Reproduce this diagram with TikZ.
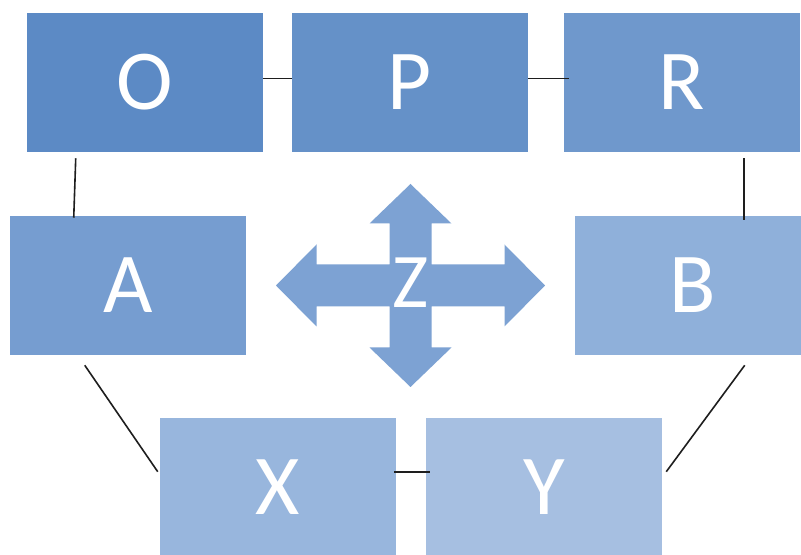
\documentclass[tikz,border=0pt]{standalone}
\usepackage{fontspec}
\newfontfamily\boxfont{Carlito}
\usepackage{tikz}
\usetikzlibrary{calc}
\definecolor{blueO}{HTML}{5C8AC5}
\definecolor{blueP}{HTML}{6591C8}
\definecolor{blueR}{HTML}{6F98CC}
\definecolor{blueA}{HTML}{769DD0}
\definecolor{blueB}{HTML}{8FB0DA}
\definecolor{blueX}{HTML}{98B6DD}
\definecolor{blueY}{HTML}{A6BFE1}
\definecolor{blueZ}{HTML}{7DA2D3}
\definecolor{ink}{HTML}{1E1E1E}
\tikzset{
  tile/.style = {rectangle, draw=none, text=white, inner sep=0pt,
                 minimum width=177pt, minimum height=104.25pt,
                 font=\boxfont\fontsize{64}{70}\selectfont},
  link/.style = {draw=ink, line width=1.2pt},
  cross/.style= {fill=blueZ, draw=none},
}
\begin{document}
\begin{tikzpicture}[x=0.75pt, y=-0.75pt]
\clip (0,0) rectangle (801,555);
\fill[white] (0,0) rectangle (801,555);
% top row
\node[tile, fill=blueO] (o) at (145,82.5) {O};
\node[tile, fill=blueP] (p) at (410,82.5) {P};
\node[tile, fill=blueR] (r) at (682,82.5) {R};
% middle row
\node[tile, fill=blueA] (a) at (128,285.5) {A};
\node[tile, fill=blueB] (b) at (693,285.5) {B};
% bottom row
\node[tile, fill=blueX] (x) at (278,487.5) {X};
\node[tile, fill=blueY] (y) at (544,487.5) {Y};
% four-way arrow
\fill[cross, shift={(410.5,285.5)}]
  (134.5,0) -- (94,-41) -- (94,-21) -- (21,-21) -- (21,-62) -- (41,-62) -- (0,-101.5)
  -- (-41,-62) -- (-21,-62) -- (-21,-21) -- (-94,-21) -- (-94,-41) -- (-134.5,0)
  -- (-94,41) -- (-94,21) -- (-21,21) -- (-21,62) -- (-41,62) -- (0,101.5)
  -- (41,62) -- (21,62) -- (21,21) -- (94,21) -- (94,41) -- cycle;
\node[text=white, inner sep=0pt, font=\boxfont\fontsize{58}{64}\selectfont] (z) at (411,283) {Z};
% connectors
\draw[link] ($(o.east)+(0,-4)$) -- ($(p.west)+(0,-4)$);
\draw[link] ($(p.east)+(0,-4)$) -- ($(r.west)+(5,-4)$);
\draw[link] ($(o.south west)+(49,6)$) -- ($(a.north west)+(64,2)$);
\draw[link] ($(r.south west)+(180,6)$) -- ($(b.north west)+(169,4)$);
\draw[link] ($(a.south west)+(75,10)$) -- ($(x.north west)+(-2,54)$);
\draw[link] ($(b.south west)+(170,10)$) -- ($(y.north east)+(4,54)$);
\draw[link] ($(x.north east)+(-2,54)$) -- ($(y.north west)+(4,54)$);
\end{tikzpicture}
\end{document}
